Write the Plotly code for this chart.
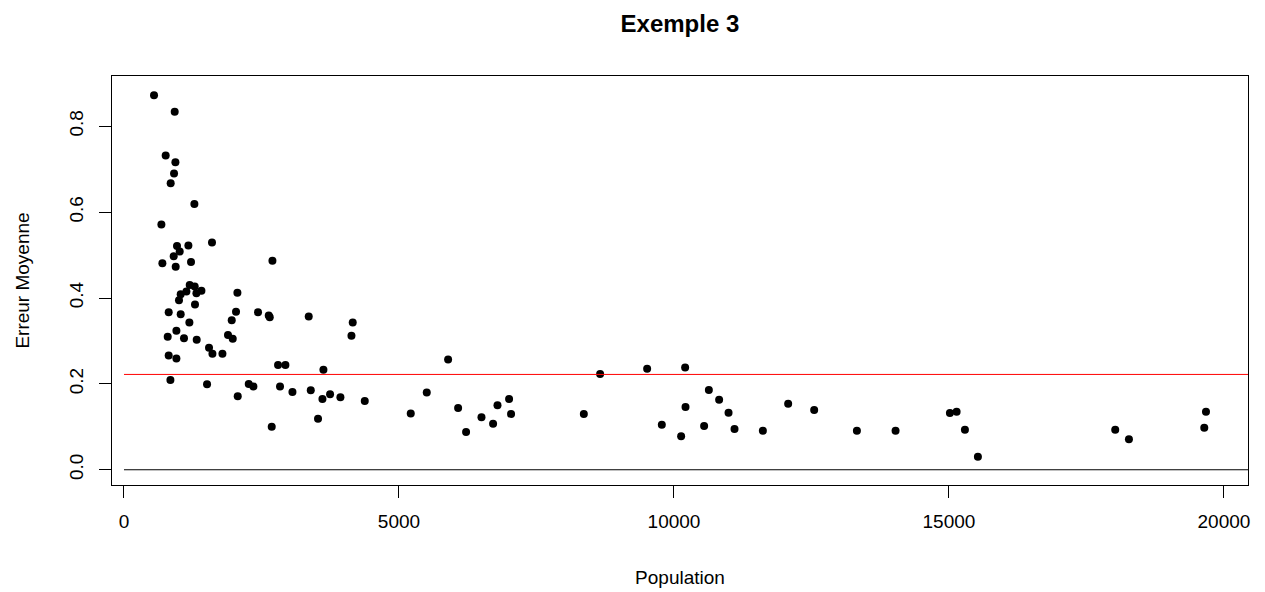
import plotly.graph_objects as go

population = [546, 922, 758, 935, 910, 849, 1280, 680, 964, 1171, 1600, 1013, 904, 698, 940, 1219, 2699,
              1195, 1286, 1031, 1135, 1317, 1408, 1000, 1291, 2062, 813, 1031, 2037, 2437, 2632, 2650,
              1189, 1959, 953, 795, 1091, 1322, 1891, 1977, 1546, 1608, 1790, 813, 953, 2801, 2935,
              844, 1510, 2268, 2353, 2837, 3063, 2068, 2686,
              3359, 4159, 4136, 3626, 5893, 3396, 3608, 3747, 3935, 4378, 3528, 5214, 5505, 6075, 6220,
              6500, 6711, 6791, 7002, 7038,
              8361, 8657, 9512, 10203, 9779, 10130, 10210, 10634, 10821, 10992, 10548, 11101, 11616,
              12076, 12549, 13326, 14029, 15017, 15139, 15290, 15526, 18023, 18272, 19673, 19642]
erreur = [0.872, 0.834, 0.732, 0.716, 0.690, 0.667, 0.619, 0.571, 0.521, 0.522, 0.529, 0.508, 0.497, 0.481, 0.473, 0.484, 0.487,
          0.430, 0.427, 0.409, 0.415, 0.411, 0.417, 0.395, 0.385, 0.412, 0.367, 0.362, 0.368, 0.367, 0.359, 0.355,
          0.343, 0.348, 0.324, 0.310, 0.306, 0.303, 0.314, 0.305, 0.284, 0.270, 0.270, 0.266, 0.259, 0.244, 0.244,
          0.209, 0.199, 0.200, 0.194, 0.194, 0.181, 0.171, 0.100,
          0.357, 0.343, 0.312, 0.233, 0.257, 0.185, 0.165, 0.176, 0.169, 0.160, 0.119, 0.131, 0.180, 0.144, 0.088,
          0.122, 0.107, 0.150, 0.165, 0.130,
          0.130, 0.223, 0.235, 0.238, 0.105, 0.078, 0.146, 0.186, 0.163, 0.133, 0.102, 0.095, 0.091,
          0.154, 0.139, 0.091, 0.091, 0.132, 0.135, 0.093, 0.030, 0.093, 0.071, 0.135, 0.098]
moyenne = 0.222

x_ticks = [0, 5000, 10000, 15000, 20000]
y_ticks = [0.0, 0.2, 0.4, 0.6, 0.8]
y_ticklabels = ["0.0", "0.2", "0.4", "0.6", "0.8"]

X_RANGE = [-218, 20437]
Y_RANGE = [-0.0355, 0.917]

FONT = "Liberation Sans, Arial, Helvetica, sans-serif"

fig = go.Figure()
fig.add_trace(go.Scatter(x=population, y=erreur, mode="markers",
                         marker=dict(color="black", size=8, line=dict(width=0)),
                         showlegend=False, hoverinfo="skip"))

fig.add_shape(type="line", xref="x", yref="y", x0=0, x1=X_RANGE[1], y0=0, y1=0,
              line=dict(color="black", width=1))
fig.add_shape(type="line", xref="x", yref="y", x0=0, x1=X_RANGE[1], y0=moyenne, y1=moyenne,
              line=dict(color="#FF0000", width=1))

fig.update_layout(
    width=1265, height=592,
    margin=dict(l=112, r=17, t=76, b=107, autoexpand=False),
    paper_bgcolor="white", plot_bgcolor="white",
    font=dict(family=FONT, size=19, color="black"),
    title=dict(text="<b>Exemple 3</b>", x=0.5375, xanchor="center", y=1 - 24 / 592, yanchor="middle",
               font=dict(size=24, family=FONT, color="black")),
    xaxis=dict(range=X_RANGE, tickmode="array", tickvals=x_ticks,
               ticktext=[str(v) for v in x_ticks], automargin=False,
               showgrid=False, zeroline=False, showline=True, mirror=True,
               linecolor="black", linewidth=1, ticks="outside", ticklen=12,
               tickcolor="black", tickwidth=1, ticklabelstandoff=7,
               title=dict(text="Population", standoff=39, font=dict(size=19))),
    yaxis=dict(range=Y_RANGE, tickmode="array", tickvals=y_ticks, ticktext=y_ticklabels,
               tickangle=-90, automargin=False,
               showgrid=False, zeroline=False, showline=True, mirror=True,
               linecolor="black", linewidth=1, ticks="outside", ticklen=12,
               tickcolor="black", tickwidth=1, ticklabelstandoff=8,
               title=dict(text="Erreur Moyenne", standoff=31, font=dict(size=19))),
)

fig.write_html("out.html")
